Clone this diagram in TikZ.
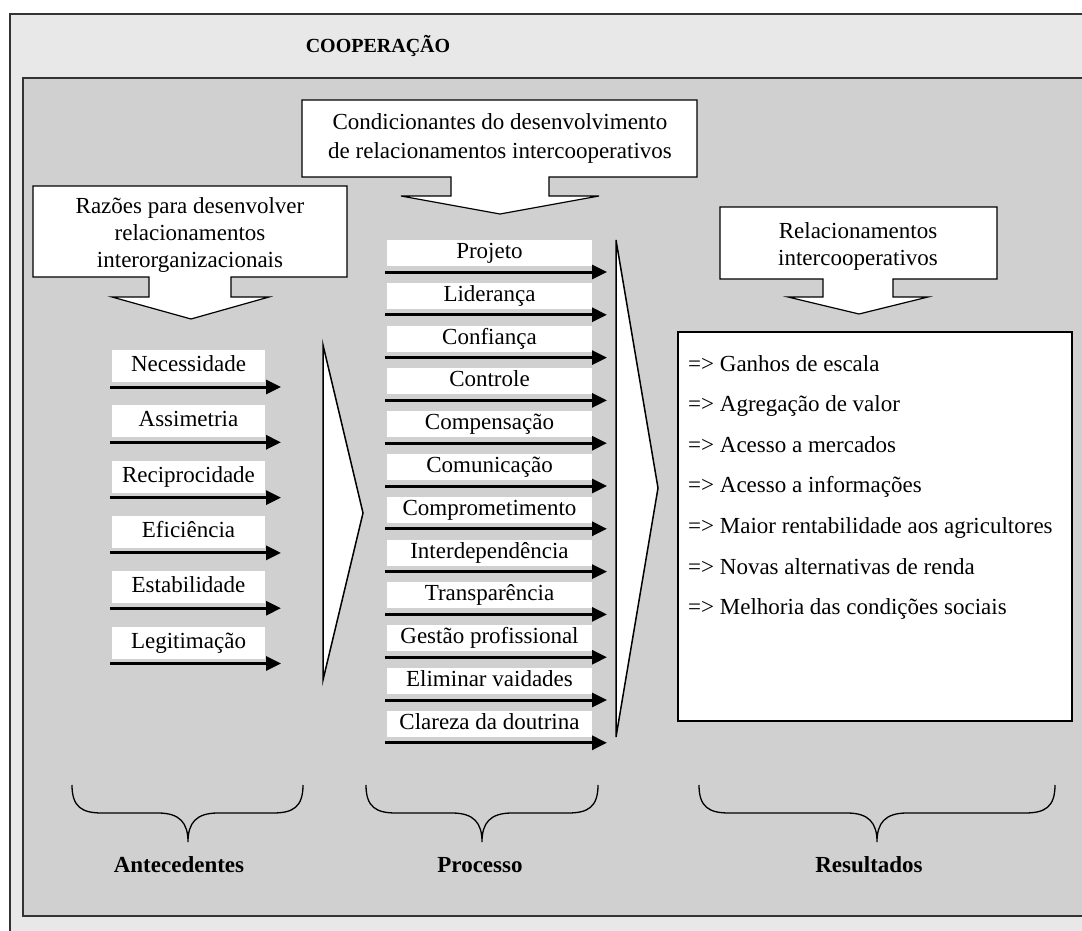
\documentclass[tikz,border=0pt]{standalone}
\usepackage{fontspec}
\setmainfont{Liberation Serif}
\usetikzlibrary{arrows.meta}
\definecolor{outerbg}{RGB}{232,232,232}
\definecolor{innerbg}{RGB}{208,208,208}
\newcommand{\drawbrace}[3]{%
  \draw[brace] (#1,785) .. controls (#1,807) and ({#1+10},813) .. ({#1+30},813) -- ({#2-30},813)
    .. controls ({#2-8},813) and (#2,823) .. (#2,842)
    .. controls (#2,823) and ({#2+8},813) .. ({#2+30},813) -- ({#3-30},813)
    .. controls ({#3-10},813) and (#3,807) .. (#3,785);}
\begin{document}
\begin{tikzpicture}[x=1pt,y=-1pt,
  every node/.style={font=\fontsize{23}{28}\selectfont, inner sep=0pt},
  framebox/.style={draw=black!80, line width=1.5pt},
  callout/.style={draw=black, line width=1.2pt, fill=white, line join=miter},
  bigtri/.style={draw=black, line width=1.5pt, fill=white},
  lbl/.style={fill=white, minimum height=32pt, minimum width=153pt, text height=16pt, text depth=5pt},
  mlbl/.style={fill=white, minimum height=26pt, minimum width=205pt, text height=16pt, text depth=5pt},
  flow/.style={line width=3pt, -{Triangle[length=15pt,width=14pt]}},
  brace/.style={line width=1.3pt},
  caption/.style={font=\fontsize{23}{28}\selectfont\bfseries},
  result/.style={anchor=base west}
]
\useasboundingbox (0,0) rectangle (1082,931);
\clip (0,0) rectangle (1082,931);
% frames
\draw[framebox, fill=outerbg] (10,14) rectangle (1100,960);
\draw[framebox, fill=innerbg] (23,78) rectangle (1100,916);
\node[caption, font=\fontsize{20}{24}\selectfont\bfseries] (title) at (378,46) {COOPERAÇÃO};

% callout: Condicionantes
\draw[callout] (302,100) -- (697,100) -- (697,177) -- (549,177) -- (549,196) -- (599,196)
  -- (500,214) -- (401,196) -- (451,196) -- (451,177) -- (302,177) -- cycle;
\node[align=center, font=\fontsize{23}{29}\selectfont] (cond) at (500,138)
  {Condicionantes do desenvolvimento\\de relacionamentos intercooperativos};

% callout: Razoes
\draw[callout] (33,186) -- (347,186) -- (347,277) -- (231,277) -- (231,297) -- (269,297)
  -- (191,319) -- (112,297) -- (149,297) -- (149,277) -- (33,277) -- cycle;
\node[align=center, font=\fontsize{23}{27}\selectfont] (raz) at (190,235)
  {Razões para desenvolver\\relacionamentos\\interorganizacionais};

% callout: Relacionamentos
\draw[callout] (720,207) -- (997,207) -- (997,279) -- (893,279) -- (893,297) -- (928,297)
  -- (859,314) -- (788,297) -- (823,297) -- (823,279) -- (720,279) -- cycle;
\node[align=center, font=\fontsize{23}{27}\selectfont] (rel) at (858,246)
  {Relacionamentos\\intercooperativos};

% big triangles
\draw[bigtri] (323,345) -- (363,513) -- (323,680) -- cycle;
\draw[bigtri] (616,240) -- (658,488) -- (616,737) -- cycle;

% left list
\foreach \t [count=\i] in {Necessidade, Assimetria, Reciprocidade, Eficiência, Estabilidade, Legitimação} {
  \pgfmathsetmacro\ya{387+55.3*(\i-1)}
  \node[lbl] (L\i) at (188.5,\ya-21) {\t};
  \coordinate (La\i) at (110,\ya);
  \coordinate (Lb\i) at (281,\ya);
  \draw[flow] (La\i) -- (Lb\i);
}

% middle list
\foreach \t [count=\i] in {Projeto, Liderança, Confiança, Controle, Compensação, Comunicação,
  Comprometimento, Interdependência, Transparência, Gestão profissional, Eliminar vaidades, Clareza da doutrina} {
  \pgfmathsetmacro\ya{272+42.8*(\i-1)}
  \node[mlbl] (M\i) at (489.5,\ya-19) {\t};
  \coordinate (Ma\i) at (385,\ya);
  \coordinate (Mb\i) at (607,\ya);
  \draw[flow] (Ma\i) -- (Mb\i);
}

% results box
\draw[draw=black, line width=1.2pt, fill=white] (678,332) rectangle (1072,721);
\foreach \t [count=\i] in {Ganhos de escala, Agregação de valor, Acesso a mercados, Acesso a informações,
  Maior rentabilidade aos agricultores, Novas alternativas de renda, Melhoria das condições sociais} {
  \pgfmathsetmacro\yr{371+40.6*(\i-1)}
  \node[result] (R\i) at (688,\yr) {=> \t};
}

% braces and captions
\drawbrace{72}{188}{303}
\drawbrace{366}{482}{598}
\drawbrace{699}{877}{1055}
\node[caption] (ant) at (179,865) {Antecedentes};
\node[caption] (proc) at (480,865) {Processo};
\node[caption] (res) at (869,865) {Resultados};
\end{tikzpicture}
\end{document}
